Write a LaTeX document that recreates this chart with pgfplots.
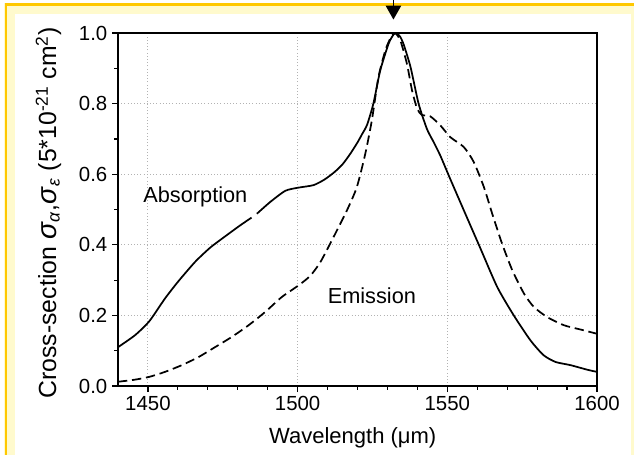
\documentclass[border=0pt]{standalone}
\usepackage{fontspec}
\setmainfont{Liberation Sans}
\usepackage{pgfplots}
\pgfplotsset{compat=1.18}
\usetikzlibrary{arrows.meta}
\definecolor{gold}{RGB}{255,200,0}
\definecolor{paleyellow}{RGB}{255,250,205}
\pgfplotstableread{
x y
1440 0.110
1445.7 0.144
1450.5 0.184
1455.7 0.248
1460.2 0.297
1465.8 0.352
1470.8 0.392
1475.8 0.424
1480.8 0.455
1484.6 0.477
}\absA
\pgfplotstableread{
x y
1486.4 0.488
1490.8 0.521
1495.9 0.553
1500.3 0.562
1505.3 0.569
1509 0.585
1512.3 0.606
1515 0.628
1517.6 0.658
1520 0.69
1521.5 0.713
1523.2 0.740
1525.3 0.800
1527.6 0.894
1530.4 0.970
1532 0.995
1533 1.000
1534.2 0.990
1535.4 0.968
1537.7 0.904
1540.4 0.800
1543.2 0.728
1545.5 0.690
1547.7 0.652
1550.8 0.590
1555.5 0.498
1561.1 0.389
1566.7 0.280
1572.2 0.200
1577.8 0.129
1582.2 0.087
1586.2 0.068
1591.2 0.059
1596.8 0.046
1600 0.040
}\absB
\pgfplotstableread{
x y
1440 0.012
1445.7 0.018
1450.5 0.026
1455.7 0.040
1461.3 0.059
1466.9 0.082
1472.4 0.110
1478 0.139
1483.6 0.172
1489.2 0.210
1494.7 0.252
1500.3 0.285
1504.2 0.312
1507.6 0.351
1512 0.422
1516.5 0.498
1519.8 0.564
1522.6 0.658
1524.8 0.753
1527 0.875
1529.3 0.951
1531 0.985
1532.5 1.000
1534.3 0.979
1536.5 0.913
1538.2 0.838
1539.9 0.786
1541.5 0.768
1544.3 0.764
1547.7 0.738
1551 0.705
1555.5 0.677
1558.8 0.635
1562.2 0.564
1565 0.488
1568.3 0.403
1571.7 0.328
1575.6 0.262
1578.9 0.224
1583.4 0.195
1589 0.172
1594.5 0.160
1600 0.148
}\emis
\begin{document}
\begin{tikzpicture}
\useasboundingbox (0pt,0pt) rectangle (475.5pt,340.5pt);
\fill[paleyellow] (3pt,-8pt) rectangle (480pt,338.3pt);
\fill[white] (11.3pt,-8pt) rectangle (473pt,330pt);
\draw[gold, line width=1.8pt] (4.5pt,-8pt) -- (4.5pt,337.2pt) -- (480pt,337.2pt);
\begin{axis}[
  at={(88.5pt,51pt)}, anchor=south west,
  scale only axis, width=359.25pt, height=264.75pt,
  xmin=1440, xmax=1600, ymin=0, ymax=1,
  xtick={1450,1500,1550,1600}, minor x tick num=4,
  ytick={0,0.2,0.4,0.6,0.8,1.0}, minor y tick num=1,
  xtick pos=bottom, ytick pos=left,
  tick align=outside,
  major tick length=4.5pt, minor tick length=2.8pt,
  every tick/.style={black, line width=0.9pt},
  axis line style={line width=1.1pt},
  grid=major,
  major grid style={dotted, gray!60, line width=0.7pt},
  clip=false,
  tick label style={font=\fontsize{15.3}{18}\selectfont},
  xticklabel style={/pgf/number format/.cd, set thousands separator={}, assume math mode=true},
  yticklabel style={/pgf/number format/.cd, fixed, fixed zerofill, precision=1, assume math mode=true},
  xlabel style={font=\fontsize{16.5}{19}\selectfont},
  xlabel={Wavelength (μm)},
  xlabel style={at={(axis description cs:0.49,-0.146)}, anchor=center},
  ylabel style={font=\fontsize{18.6}{21}\selectfont},
  ylabel={Cross-section {\fontsize{21}{21}\selectfont\textit{σ}}\textsubscript{\textit{α}},{\fontsize{21}{21}\selectfont\textit{σ}}\textsubscript{\textit{ε}} (5*10\textsuperscript{-21} cm\textsuperscript{2})},
  ylabel style={at={(axis description cs:-0.145,0.49)}, anchor=center},
]
\addplot[black, line width=1.3pt, smooth, tension=0.4] table {\absA};
\addplot[black, line width=1.3pt, smooth, tension=0.4] table {\absB};
\addplot[black, line width=1.3pt, smooth, tension=0.4, dash pattern=on 7pt off 3.6pt] table {\emis};
\node[anchor=west, inner sep=0, font=\fontsize{16.3}{19}\selectfont] at (axis cs:1448.4,0.537) {Absorption};
\node[anchor=center, inner sep=0, font=\fontsize{16.3}{19}\selectfont] at (axis cs:1524.8,0.257) {Emission};
\draw[black, line width=1.3pt, -{Triangle[width=11.5pt,length=10.5pt]}] (axis cs:1532,1.12) -- (axis cs:1532,1.038);
\end{axis}
\end{tikzpicture}
\end{document}
